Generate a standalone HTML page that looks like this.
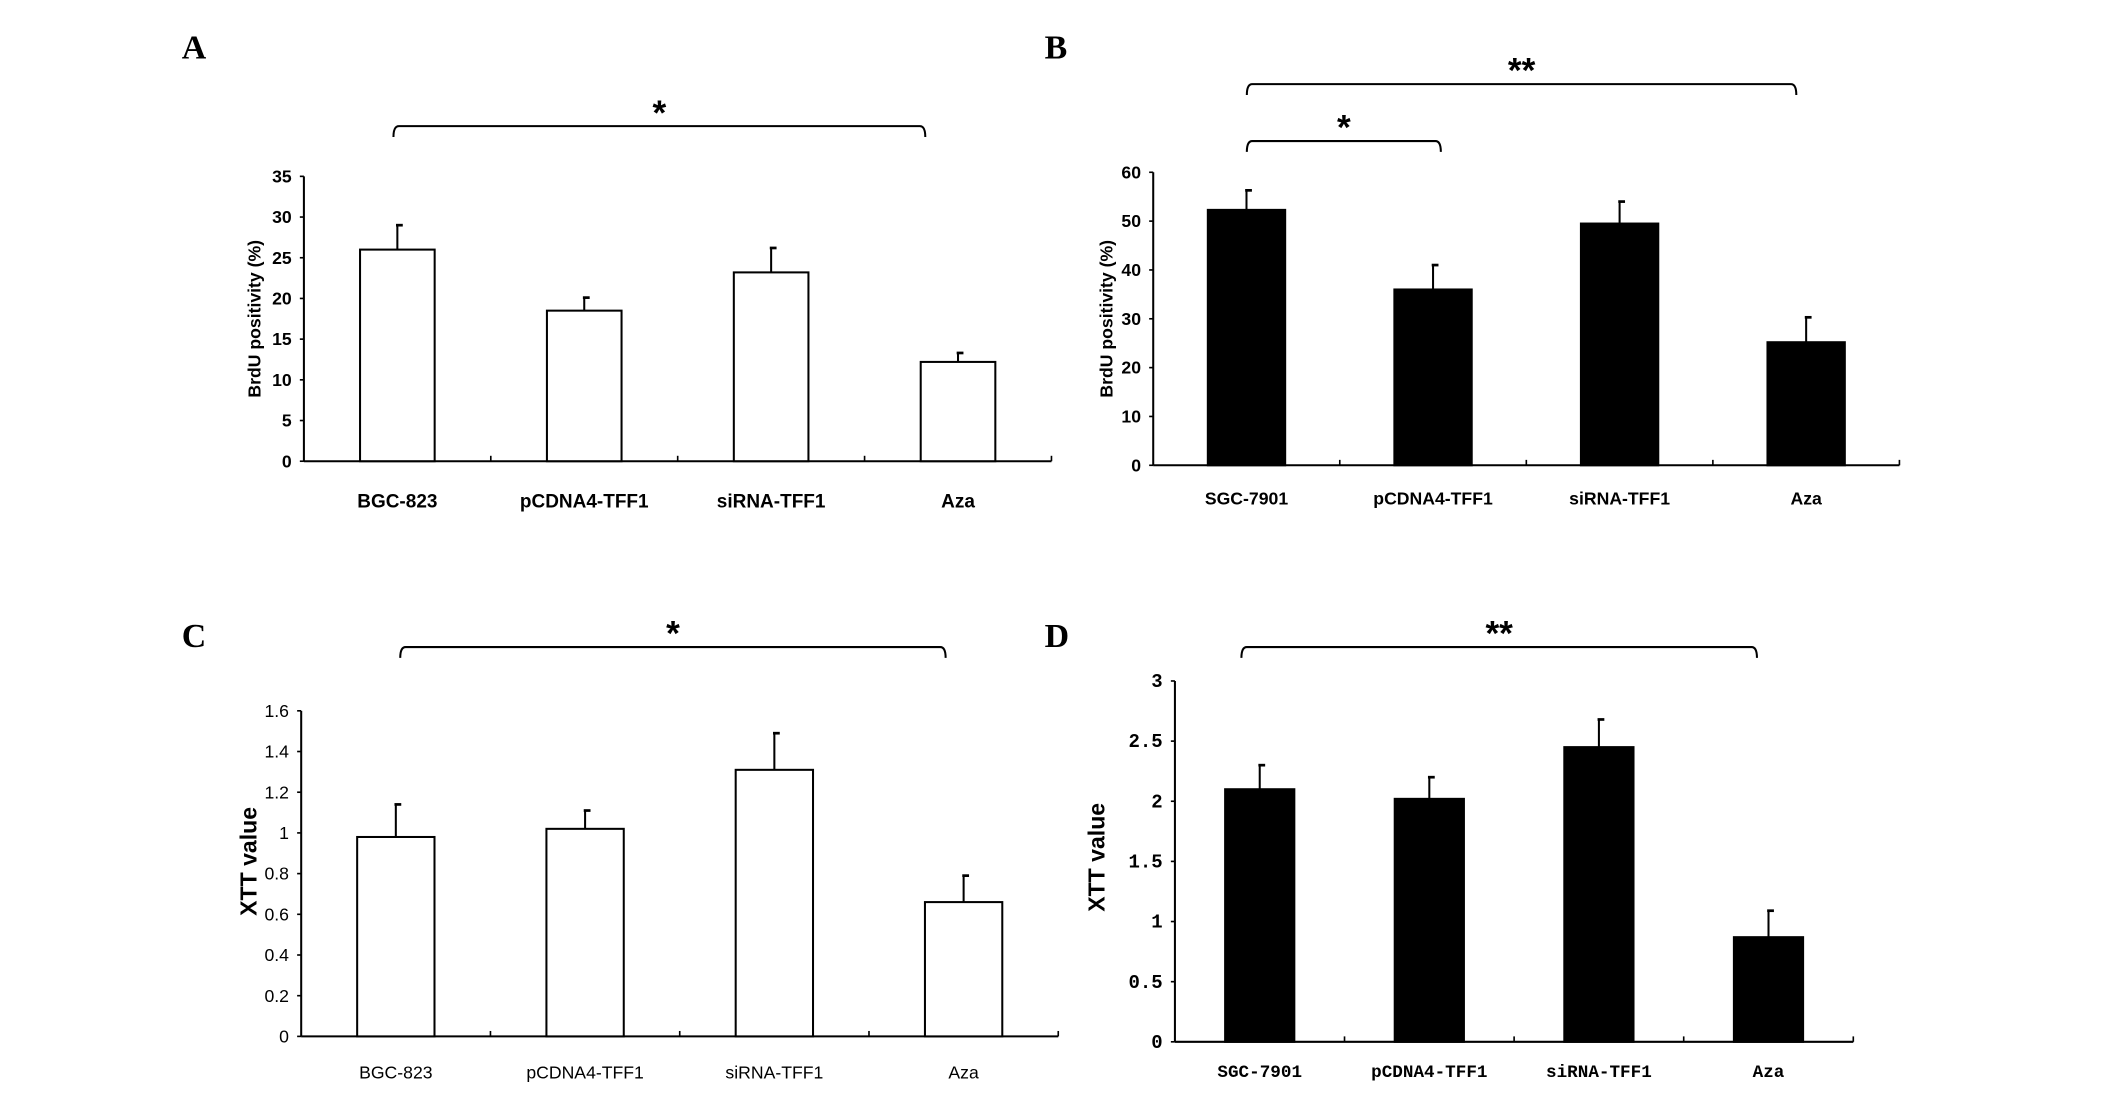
<!DOCTYPE html>
<html><head><meta charset="utf-8">
<style>
html,body{margin:0;padding:0;background:#fff;}
svg{display:block;}
</style></head>
<body>
<svg id="fig" width="2126" height="1111" viewBox="0 0 1567 819" preserveAspectRatio="none" xmlns="http://www.w3.org/2000/svg">
<text x="134" y="43" font-family="Liberation Serif" font-weight="bold" font-size="25">A</text>
<text x="770" y="43" font-family="Liberation Serif" font-weight="bold" font-size="25">B</text>
<text x="134" y="477" font-family="Liberation Serif" font-weight="bold" font-size="25">C</text>
<text x="770" y="477" font-family="Liberation Serif" font-weight="bold" font-size="25">D</text>
</svg>
<script>
// Panel A data
const catsA = ["BGC-823","pCDNA4-TFF1","siRNA-TFF1","Aza"];
const valsA = [26, 18.5, 23.2, 12.2];
const errA = [29, 20.1, 26.2, 13.3];
const ticksA = ["0","5","10","15","20","25","30","35"];
// Panel B data
const catsB = ["SGC-7901","pCDNA4-TFF1","siRNA-TFF1","Aza"];
const valsB = [52.3, 36, 49.5, 25.2];
const errB = [56.3, 41, 54, 30.3];
const ticksB = ["0","10","20","30","40","50","60"];
// Panel C data
const catsC = ["BGC-823","pCDNA4-TFF1","siRNA-TFF1","Aza"];
const valsC = [0.98, 1.02, 1.31, 0.66];
const errC = [1.14, 1.11, 1.49, 0.79];
const ticksC = ["0","0.2","0.4","0.6","0.8","1","1.2","1.4","1.6"];
// Panel D data
const catsD = ["SGC-7901","pCDNA4-TFF1","siRNA-TFF1","Aza"];
const valsD = [2.1, 2.02, 2.45, 0.87];
const errD = [2.3, 2.2, 2.68, 1.09];
const ticksD = ["0","0.5","1","1.5","2","2.5","3"];

const NS = "http://www.w3.org/2000/svg";
const svg = document.getElementById('fig');
function mk(tag, attrs, parent){
  const e = document.createElementNS(NS, tag);
  for (const k in attrs) e.setAttribute(k, attrs[k]);
  (parent||svg).appendChild(e);
  return e;
}
function panel(id, cats, vals, errs, ticks, L){
  const g = mk('g', {});
  
  
  const ymax = parseFloat(ticks[ticks.length-1]);
  const y = v => L.y0 - (v/ymax)*(L.y0 - L.ytop);
  const cw = (L.xend - L.x0)/cats.length;
  const cx = i => L.x0 + cw*(i+0.5);
  const ya = mk('line', {x1:L.x0, y1:L.ytop, x2:L.x0, y2:L.y0, stroke:'#000','stroke-width':1.5}, g);
  
  
  const xa = mk('line', {x1:L.x0, y1:L.y0, x2:L.xend, y2:L.y0, stroke:'#000','stroke-width':1.5}, g);
  
  
  ticks.forEach(t => {
    const v = parseFloat(t), yy = y(v);
    mk('line', {x1:L.x0-3, y1:yy, x2:L.x0, y2:yy, stroke:'#000','stroke-width':1.2}, g);
    const tx = mk('text', {x:L.x0-9, y:yy+4.5, 'text-anchor':'end', 'font-family':L.tickFont, 'font-weight':L.tickWeight, 'font-size':L.tickSize}, g);
    tx.textContent = t;
    
    
  });
  for (let i=1;i<=cats.length;i++){
    const xx = L.x0 + cw*i;
    mk('line', {x1:xx, y1:L.y0-4, x2:xx, y2:L.y0, stroke:'#000','stroke-width':1.2}, g);
  }
  cats.forEach((c,i) => {
    const top = y(vals[i]);
    const b = mk('rect', {x:cx(i)-L.bw/2, y:top, width:L.bw, height:L.y0-top, fill:L.fill, stroke:'#000','stroke-width':1.5}, g);
    
    
    const ey = y(errs[i]);
    const el = mk('line', {x1:cx(i), y1:top, x2:cx(i), y2:ey, stroke:'#000','stroke-width':1.5}, g);
    
    
    mk('line', {x1:cx(i)-1, y1:ey, x2:cx(i)+4, y2:ey, stroke:'#000','stroke-width':2}, g);
    const lb = mk('text', {x:cx(i), y:L.labY, 'text-anchor':'middle', 'font-family':L.labFont, 'font-weight':L.labWeight, 'font-size':L.labSize}, g);
    lb.textContent = c;
    
    
  });
  const tt = mk('text', {x:0, y:0, transform:`translate(${L.titleX},${L.titleY}) rotate(-90)`, 'text-anchor':'middle', 'font-family':'Liberation Sans', 'font-weight':'bold', 'font-size':L.titleSize}, g);
  tt.textContent = L.title;
  
  
  L.brackets.forEach(br => {
    const p = mk('path', {d:`M${br.x1},${br.y+8} Q${br.x1},${br.y} ${br.x1+4},${br.y} L${br.x2-4},${br.y} Q${br.x2},${br.y} ${br.x2},${br.y+8}`, fill:'none', stroke:'#000','stroke-width':1.5}, g);
    
    
    const s = mk('text', {x:(br.x1+br.x2)/2, y:br.y-1, 'text-anchor':'middle', 'font-family':'Liberation Sans', 'font-weight':'bold', 'font-size':26}, g);
    s.textContent = br.s;
    
    
  });
}
panel('a', catsA, valsA, errA, ticksA, {x0:224,xend:775,y0:340,ytop:130,bw:55,fill:'#fff',
  tickFont:'Liberation Sans',tickWeight:'bold',tickSize:13,labFont:'Liberation Sans',labWeight:'bold',labSize:14,labY:374,
  title:'BrdU positivity (%)',titleX:192,titleY:235,titleSize:13,
  brackets:[{x1:290,x2:682,y:93,s:'*'}]});
panel('b', catsB, valsB, errB, ticksB, {x0:850,xend:1400,y0:343,ytop:127,bw:57,fill:'#000',
  tickFont:'Liberation Sans',tickWeight:'bold',tickSize:13,labFont:'Liberation Sans',labWeight:'bold',labSize:13,labY:372,
  title:'BrdU positivity (%)',titleX:820,titleY:235,titleSize:13,
  brackets:[{x1:919,x2:1324,y:62,s:'**'},{x1:919,x2:1062,y:104,s:'*'}]});
panel('c', catsC, valsC, errC, ticksC, {x0:222,xend:780,y0:764,ytop:524,bw:57,fill:'#fff',
  tickFont:'Liberation Sans Narrow, Liberation Sans',tickWeight:'normal',tickSize:13,labFont:'Liberation Sans Narrow, Liberation Sans',labWeight:'normal',labSize:13,labY:795,
  title:'XTT value',titleX:189,titleY:635,titleSize:17,
  brackets:[{x1:295,x2:697,y:477,s:'*'}]});
panel('d', catsD, valsD, errD, ticksD, {x0:866,xend:1366,y0:768,ytop:502,bw:51,fill:'#000',
  tickFont:'Liberation Mono',tickWeight:'bold',tickSize:14,labFont:'Liberation Mono',labWeight:'bold',labSize:13,labY:794,
  title:'XTT value',titleX:814,titleY:632,titleSize:17,
  brackets:[{x1:915,x2:1295,y:477,s:'**'}]});
</script>
</body></html>
